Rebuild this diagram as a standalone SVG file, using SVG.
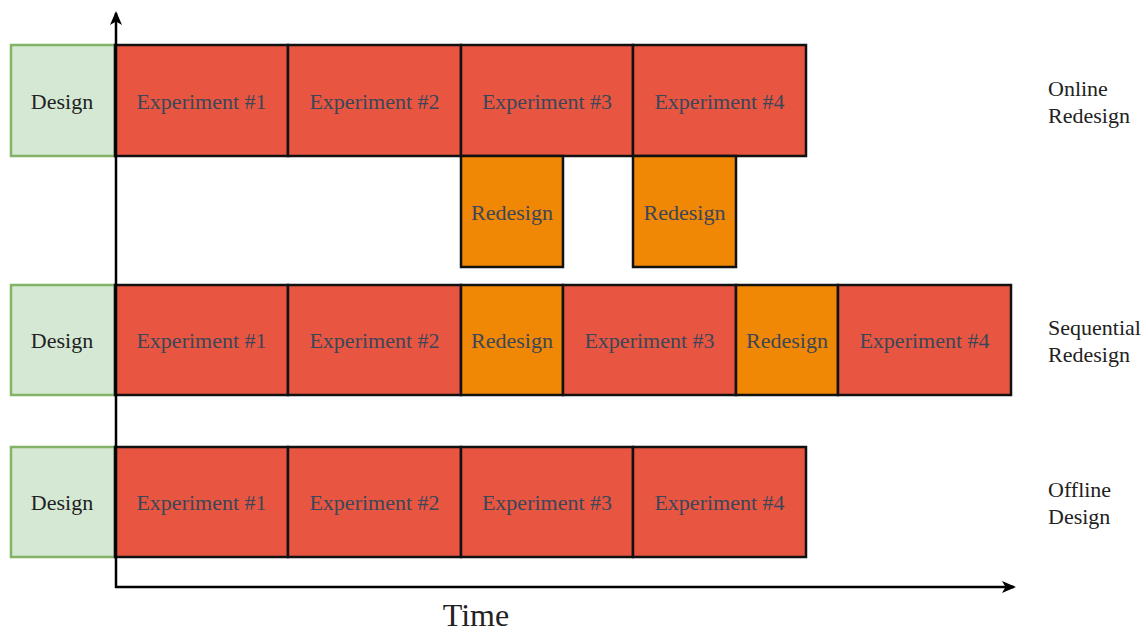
<svg xmlns="http://www.w3.org/2000/svg" width="1144" height="631" viewBox="0 0 1144 631">
<style>
  text { font-family: "Liberation Serif", "Times New Roman", serif; font-size: 22px; }
  .design rect { fill: #d5e8d4; stroke: #82b366; stroke-width: 2.5; }
  .design text { fill: #222; text-anchor: middle; dominant-baseline: central; }
  .exp rect { fill: #e85642; stroke: #111; stroke-width: 2.5; }
  .redesign rect { fill: #f08705; stroke: #111; stroke-width: 2.5; }
  .exp text, .redesign text { fill: #3b4658; text-anchor: middle; dominant-baseline: central; }
  .label { fill: #222; }
  .axis { stroke: #000; stroke-width: 2.5; fill: none; }
</style>
<defs>
  <marker id="arrow" viewBox="0 0 14 14" refX="12" refY="7" markerWidth="14" markerHeight="14" markerUnits="userSpaceOnUse" orient="auto">
    <path d="M0,1 L14,7 L0,13 L3.5,7 Z" fill="#000"/>
  </marker>
</defs>
<rect width="1144" height="631" fill="#fff"/>

<!-- Row 1: Online Redesign -->
<g id="r1-design" class="design"><rect x="11" y="45" width="104" height="111"/><text x="62" y="101">Design</text></g>
<g id="r1-exp1" class="exp"><rect x="115" y="45" width="173" height="111"/><text x="201.5" y="101">Experiment #1</text></g>
<g id="r1-exp2" class="exp"><rect x="288" y="45" width="173" height="111"/><text x="374.5" y="101">Experiment #2</text></g>
<g id="r1-exp3" class="exp"><rect x="461" y="45" width="172" height="111"/><text x="547" y="101">Experiment #3</text></g>
<g id="r1-exp4" class="exp"><rect x="633" y="45" width="173" height="111"/><text x="719.5" y="101">Experiment #4</text></g>
<g id="r1-redesign1" class="redesign"><rect x="461" y="156" width="102" height="111"/><text x="512" y="212">Redesign</text></g>
<g id="r1-redesign2" class="redesign"><rect x="633" y="156" width="103" height="111"/><text x="684.5" y="212">Redesign</text></g>

<!-- Row 2: Sequential Redesign -->
<g id="r2-design" class="design"><rect x="11" y="285" width="104" height="110"/><text x="62" y="340">Design</text></g>
<g id="r2-exp1" class="exp"><rect x="115" y="285" width="173" height="110"/><text x="201.5" y="340">Experiment #1</text></g>
<g id="r2-exp2" class="exp"><rect x="288" y="285" width="173" height="110"/><text x="374.5" y="340">Experiment #2</text></g>
<g id="r2-redesign1" class="redesign"><rect x="461" y="285" width="102" height="110"/><text x="512" y="340">Redesign</text></g>
<g id="r2-exp3" class="exp"><rect x="563" y="285" width="173" height="110"/><text x="649.5" y="340">Experiment #3</text></g>
<g id="r2-redesign2" class="redesign"><rect x="736" y="285" width="102" height="110"/><text x="787" y="340">Redesign</text></g>
<g id="r2-exp4" class="exp"><rect x="838" y="285" width="173" height="110"/><text x="924.5" y="340">Experiment #4</text></g>

<!-- Row 3: Offline Design -->
<g id="r3-design" class="design"><rect x="11" y="447" width="104" height="110"/><text x="62" y="502">Design</text></g>
<g id="r3-exp1" class="exp"><rect x="115" y="447" width="173" height="110"/><text x="201.5" y="502">Experiment #1</text></g>
<g id="r3-exp2" class="exp"><rect x="288" y="447" width="173" height="110"/><text x="374.5" y="502">Experiment #2</text></g>
<g id="r3-exp3" class="exp"><rect x="461" y="447" width="172" height="110"/><text x="547" y="502">Experiment #3</text></g>
<g id="r3-exp4" class="exp"><rect x="633" y="447" width="173" height="110"/><text x="719.5" y="502">Experiment #4</text></g>

<!-- Axes -->
<g id="connectors">
  <path class="axis" d="M116,588 L116,13" marker-end="url(#arrow)"/>
  <path class="axis" d="M115,587 L1014,587" marker-end="url(#arrow)"/>
</g>

<!-- Labels -->
<g id="labels">
  <text class="label" x="1048" y="96">Online</text>
  <text class="label" x="1048" y="123">Redesign</text>
  <text class="label" x="1048" y="335">Sequential</text>
  <text class="label" x="1048" y="362">Redesign</text>
  <text class="label" x="1048" y="497">Offline</text>
  <text class="label" x="1048" y="524">Design</text>
  <text class="label" x="476" y="626" text-anchor="middle" style="font-size:32px">Time</text>
</g>
</svg>
